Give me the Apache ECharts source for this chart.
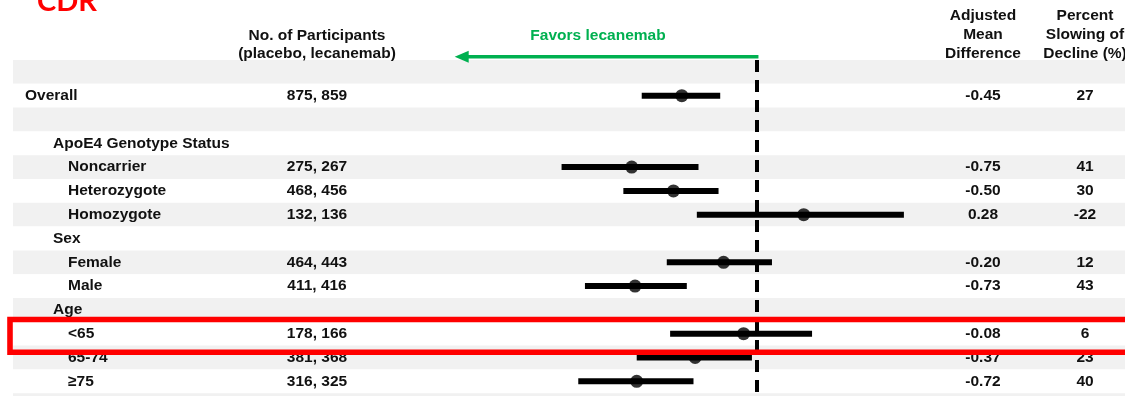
<!DOCTYPE html>
<html>
<head>
<meta charset="utf-8">
<script src="https://cdn.jsdelivr.net/npm/echarts@6/dist/echarts.min.js"></script>
<style>
  html, body { margin: 0; padding: 0; background: #ffffff; overflow: hidden; }
  /* taller than the window: the last striped row runs past the bottom edge */
  #chart { width: 1125px; height: 417px; }
</style>
</head>
<body>
<div id="chart"></div>
<script>
// Subgroup rows of the CDR-SB forest plot (blank rows keep the striping)
const rowLabels = ['', 'Overall', '', 'ApoE4 Genotype Status', 'Noncarrier', 'Heterozygote', 'Homozygote',
  'Sex', 'Female', 'Male', 'Age', '<65', '65-74', '≥75', ''];
// 0 = top level, 1 = group heading, 2 = subgroup
const rowLevels = [0, 0, 0, 1, 2, 2, 2, 1, 2, 2, 1, 2, 2, 2, 0];
const participants = ['', '875, 859', '', '', '275, 267', '468, 456', '132, 136', '',
  '464, 443', '411, 416', '', '178, 166', '381, 368', '316, 325', ''];
const meanDiff = [null, -0.45, null, null, -0.75, -0.50, 0.28, null, -0.20, -0.73, null, -0.08, -0.37, -0.72, null];
const ciLower  = [null, -0.69, null, null, -1.17, -0.80, -0.36, null, -0.54, -1.03, null, -0.52, -0.72, -1.07, null];
const ciUpper  = [null, -0.22, null, null, -0.35, -0.23, 0.88, null, 0.09, -0.42, null, 0.33, -0.03, -0.38, null];
const slowing  = ['', '27', '', '', '41', '30', '-22', '', '12', '43', '', '6', '23', '40', ''];

// Difference scale (data units) and where the "favors" arrow reaches
const X_MIN = -4.455, X_MAX = 2.204;
const favorsArrowTo = -1.81;

const FONT = 'bold 15.5px "Liberation Sans", Arial, Helvetica, sans-serif';
const INK = '#111111';
const GREEN = '#00b050';
const indentX = [25, 53, 68];
const colParticipants = 317, colDiff = 983, colSlowing = 1085;

const rowIdx = rowLabels.map((_, i) => i);

const tableRows = rowIdx.map(i => [0, i]);
const ciRows = rowIdx.filter(i => meanDiff[i] !== null).map(i => [ciLower[i], i, ciUpper[i]]);
const pointRows = rowIdx.filter(i => meanDiff[i] !== null).map(i => [meanDiff[i], i]);

function renderRow(params, api) {
  const i = api.value(1);
  const y = api.coord([0, i])[1];
  const txt = (x, s, align) => ({
    type: 'text', x: x, y: y,
    style: { text: s, font: FONT, fill: INK, align: align, verticalAlign: 'middle' }
  });
  const kids = [];
  if (rowLabels[i]) kids.push(txt(indentX[rowLevels[i]], rowLabels[i], 'left'));
  if (participants[i]) kids.push(txt(colParticipants, participants[i], 'center'));
  if (meanDiff[i] !== null) kids.push(txt(colDiff, meanDiff[i].toFixed(2), 'center'));
  if (slowing[i]) kids.push(txt(colSlowing, slowing[i], 'center'));
  return { type: 'group', children: kids };
}

function renderCI(params, api) {
  const a = api.coord([api.value(0), api.value(1)]);
  const b = api.coord([api.value(2), api.value(1)]);
  return {
    type: 'line',
    shape: { x1: a[0], y1: a[1], x2: b[0], y2: b[1] },
    style: { stroke: '#000000', lineWidth: 6, lineCap: 'butt' }
  };
}

function renderArrow(params, api) {
  const zero = api.coord([0, 0]);
  const end = api.coord([favorsArrowTo, 0]);
  const rowH = api.size([0, 1])[1];
  const y = zero[1] - rowH / 2 - 3.3;
  const headLen = 14, headHalf = 6;
  return {
    type: 'group',
    children: [
      { type: 'line', shape: { x1: zero[0] + 1.5, y1: y, x2: end[0] + headLen - 1, y2: y },
        style: { stroke: GREEN, lineWidth: 3.6 } },
      { type: 'polygon', shape: { points: [[end[0], y], [end[0] + headLen, y - headHalf], [end[0] + headLen, y + headHalf]] },
        style: { fill: GREEN } }
    ]
  };
}

const chart = echarts.init(document.getElementById('chart'), null, { renderer: 'canvas' });

const headerText = (x, y, s, align, extra) => Object.assign({
  type: 'text', x: x, y: y, z: 50,
  style: { text: s, font: FONT, fill: INK, align: align, verticalAlign: 'middle' }
}, extra || {});

chart.setOption({
  animation: false,
  backgroundColor: '#ffffff',
  grid: { left: 13, right: 0, top: 60, bottom: 0 },
  xAxis: { type: 'value', min: X_MIN, max: X_MAX, show: false },
  yAxis: {
    type: 'category', inverse: true, data: rowIdx.map(String),
    axisLine: { show: false }, axisTick: { show: false }, axisLabel: { show: false },
    splitLine: { show: false },
    splitArea: { show: true, areaStyle: { color: ['#f1f1f1', '#ffffff'] } }
  },
  series: [
    { type: 'custom', name: 'table', data: tableRows, renderItem: renderRow,
      encode: { x: 0, y: 1 }, silent: true, clip: false, z: 3 },
    { type: 'custom', name: 'ci', data: ciRows, renderItem: renderCI,
      encode: { x: [0, 2], y: 1 }, silent: true, z: 4,
      markLine: {
        silent: true, symbol: ['none', 'none'], animation: false,
        label: { show: false },
        lineStyle: { color: '#000000', width: 4, type: [12, 8] },
        data: [{ xAxis: 0 }]
      } },
    { type: 'scatter', name: 'estimate', data: pointRows, symbol: 'circle', symbolSize: 13,
      itemStyle: { color: '#000000' }, silent: true, z: 5 },
    { type: 'custom', name: 'favors', data: [[0, 0]], renderItem: renderArrow,
      encode: { x: 0, y: 1 }, silent: true, clip: false, z: 6 }
  ],
  graphic: [
    { type: 'text', x: 37, y: 2, z: 50,
      style: { text: 'CDR', font: 'bold 29px Lato, "Open Sans", sans-serif', fill: '#ff0000', align: 'left', verticalAlign: 'middle' } },
    headerText(colParticipants, 35.5, 'No. of Participants', 'center'),
    headerText(colParticipants, 53.5, '(placebo, lecanemab)', 'center'),
    headerText(colDiff, 15.5, 'Adjusted', 'center'),
    headerText(colDiff, 34.5, 'Mean', 'center'),
    headerText(colDiff, 53.5, 'Difference', 'center'),
    headerText(colSlowing, 15.5, 'Percent', 'center'),
    headerText(colSlowing, 34.5, 'Slowing of', 'center'),
    headerText(colSlowing, 53.5, 'Decline (%)', 'center'),
    { type: 'text', x: 598, y: 35.5, z: 50,
      style: { text: 'Favors lecanemab', font: FONT, fill: GREEN, align: 'center', verticalAlign: 'middle' } },
    { type: 'rect', z: 100, silent: true,
      shape: { x: 10, y: 319.5, width: 1130, height: 32.8 },
      style: { fill: 'none', stroke: '#ff0000', lineWidth: 5.6 } }
  ]
});
</script>
</body>
</html>
